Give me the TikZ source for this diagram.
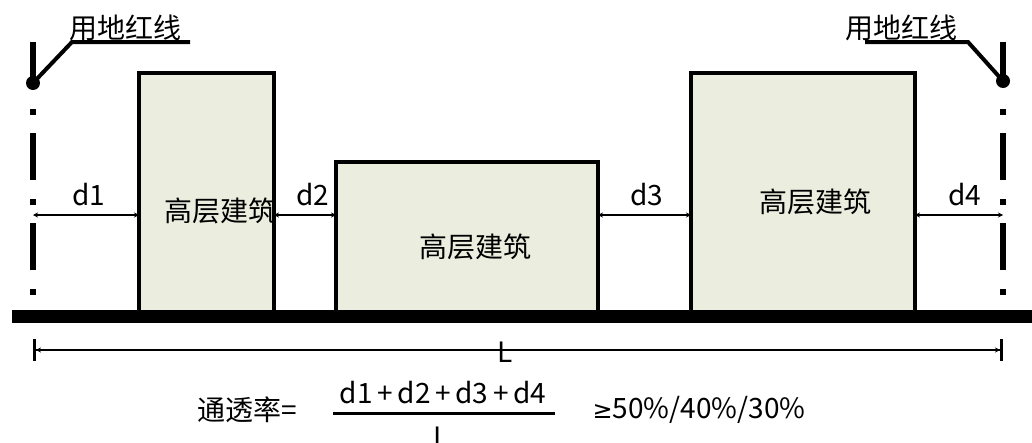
\documentclass[tikz,border=0pt]{standalone}
\usepackage{fontspec}
\setmainfont{Noto Sans CJK SC}
\newfontfamily\symfont{DejaVu Sans}
\usetikzlibrary{arrows.meta}
\definecolor{bldfill}{RGB}{235,238,222}

\begin{document}
\begin{tikzpicture}[x=1pt, y=-1pt, every node/.style={font=\fontsize{28}{32}\selectfont, inner sep=0pt, outer sep=0pt},
	bld/.style={draw, line width=4pt, fill=bldfill, anchor=north west},
	redsolid/.style={line width=6pt},
	reddash/.style={line width=6pt, dash pattern=on 6pt off 18pt on 47pt off 19pt},
	leader/.style={line width=4pt},
	dim/.style={line width=2pt, {Stealth[length=5pt,width=5pt]}-{Stealth[length=5pt,width=5pt]}},
	dimlen/.style={line width=2.5pt, {Bar[width=22pt,line width=3pt]Stealth[length=5pt,width=5pt]}-{Stealth[length=5pt,width=5pt]Bar[width=22pt,line width=3pt]}}]
	\useasboundingbox (0,0) rectangle (1032,442);
	\node[bld, minimum width=135pt, minimum height=243pt] (b1) at (139,73) {};
	\node[bld, minimum width=262pt, minimum height=154pt] (b2) at (336,162) {};
	\node[bld, minimum width=224pt, minimum height=243pt] (b3) at (691,73) {};
	\node (t1) at (220,211) {高层建筑};
	\node (t2) at (475,247) {高层建筑};
	\node (t3) at (815,202) {高层建筑};
	\fill (12,310) rectangle (1032,323);
	\coordinate (topL) at (33,42);
	\coordinate (dotL) at (33,83);
	\coordinate (dashL) at (33,109);
	\coordinate (endL) at (33,296);
	\coordinate (topR) at (1003,42);
	\coordinate (dotR) at (1003,81);
	\coordinate (dashR) at (1003,109);
	\coordinate (endR) at (1003,296);
	\draw[redsolid] (topL) -- (dotL);
	\draw[redsolid] (topR) -- (dotR);
	\fill (dotL) circle (7pt) (dotR) circle (7pt);
	\draw[reddash] (dashL) -- (endL);
	\draw[reddash] (dashR) -- (endR);
	\node[anchor=base west] (lblL) at (69,38) {用地红线};
	\node[anchor=base west] (lblR) at (845,38) {用地红线};
	\coordinate (kinkL) at (72,42);
	\coordinate (ulL) at (190,42);
	\coordinate (kinkR) at (968,42);
	\coordinate (ulR) at (865,42);
	\draw[leader] (dotL) -- (kinkL) -- (ulL);
	\draw[leader] (dotR) -- (kinkR) -- (ulR);
	\coordinate (dimL) at (33,215);
	\coordinate (dimR) at (1003,215);
	\draw[dim] (dimL) -- (b1.west |- dimL);
	\draw[dim] (b1.east |- dimL) -- (b2.west |- dimL);
	\draw[dim] (b2.east |- dimL) -- (b3.west |- dimL);
	\draw[dim] (b3.east |- dimL) -- (dimR);
	\node[anchor=base] (d1) at (89,205) {d1};
	\node[anchor=base] (d2) at (313,205) {d2};
	\node[anchor=base] (d3) at (647,205) {d3};
	\node[anchor=base] (d4) at (965,205) {d4};
	\coordinate (lenL) at (33,350);
	\coordinate (lenR) at (1003,350);
	\draw[dimlen] (lenL) -- (lenR);
	\node (len) at (505,352) {L};
	\node (ratio) at (247,410) {通透率=};
	\node (num) at (443,393) {d1\,+\,d2\,+\,d3\,+\,d4};
	\coordinate (barL) at (333,413);
	\coordinate (barR) at (555,413);
	\draw[line width=3pt] (barL) -- (barR);
	\node (den) at (441,437) {L};
	\node (limit) at (699,410) {{\symfont\fontsize{24}{28}\selectfont ≥}50\%/40\%/30\%};
\end{tikzpicture}
\end{document}
